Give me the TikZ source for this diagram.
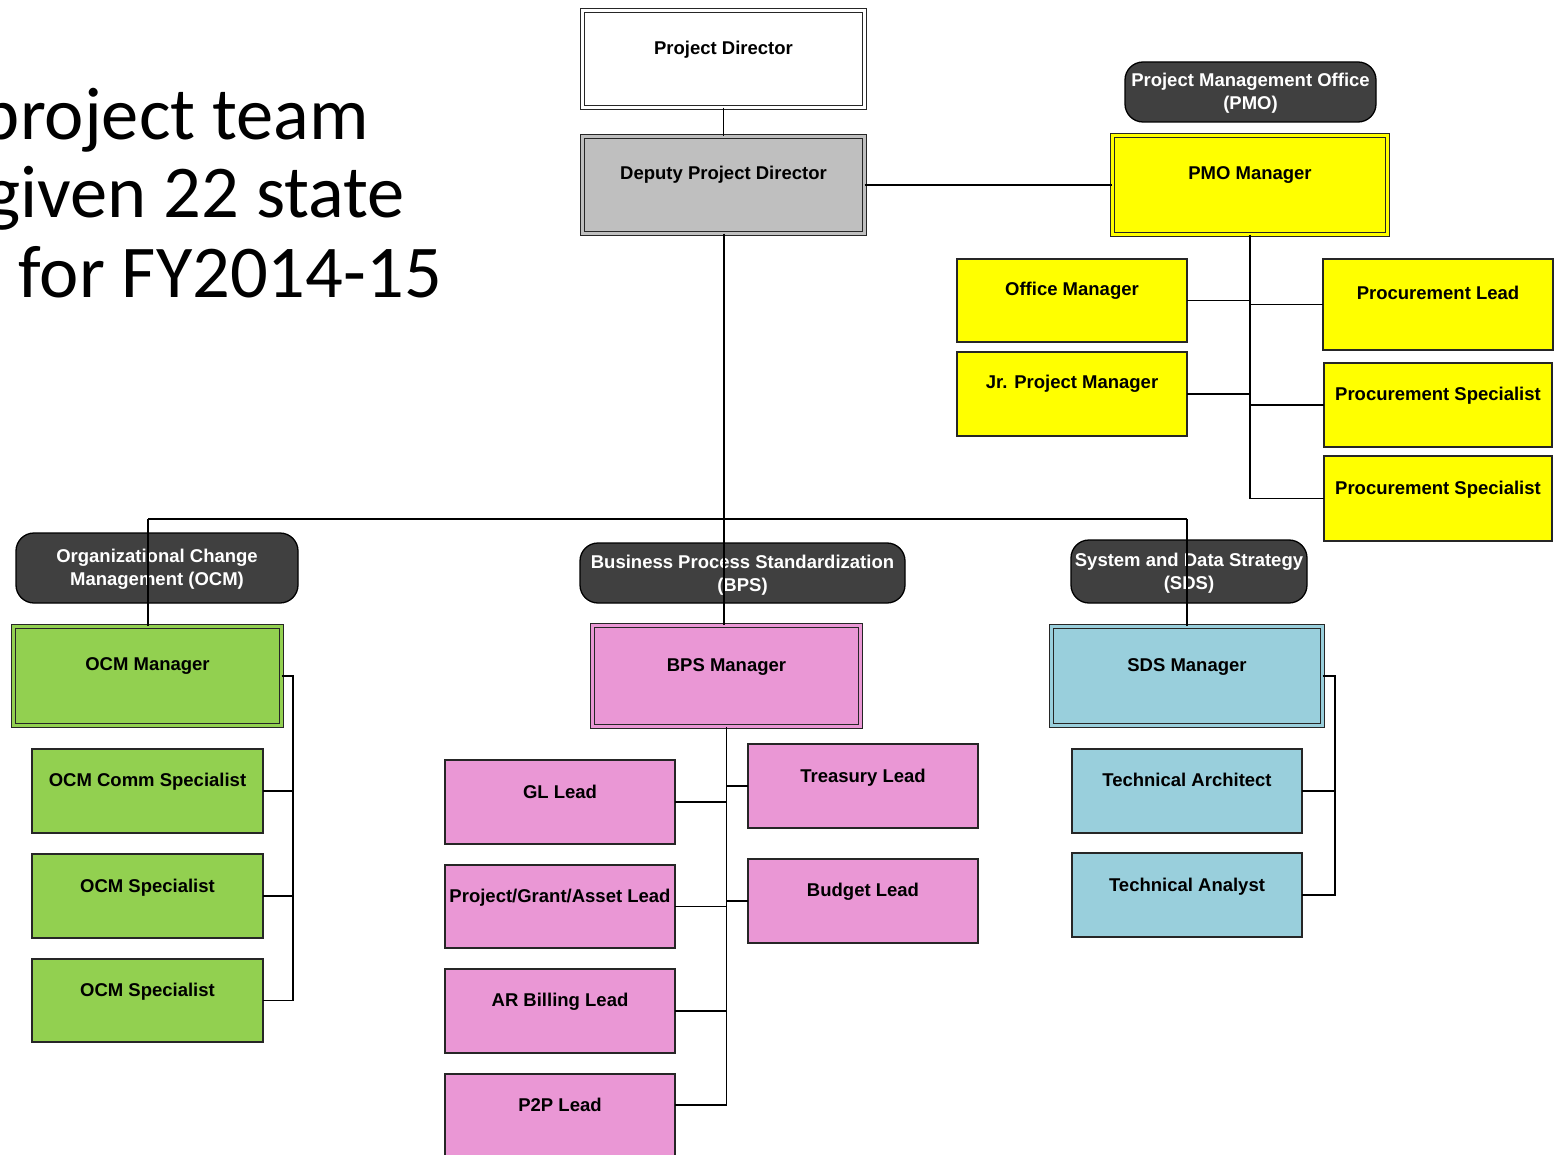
\documentclass[tikz,border=0pt]{standalone}
\usepackage{fontspec}
\setmainfont{Liberation Sans}
\newfontfamily\titlefont{Carlito}
\definecolor{ylw}{HTML}{FFFF00}
\definecolor{grn}{HTML}{92D050}
\definecolor{pnk}{HTML}{EA97D5}
\definecolor{blu}{HTML}{99CFDC}
\definecolor{gry}{HTML}{BFBFBF}
\definecolor{hdrgray}{HTML}{404040}
\newcommand\orgbox[8]{%
  \node[box, fill=#2, minimum width={#5-#3}, minimum height={#6-#4}] (#1) at ({(#3+#5)/2},{(#4+#6)/2}) {};
  \node[lbl] (#1-t) at ({(#3+#5)/2},#7) {#8};}
\newcommand\mgrbox[8]{%
  \node[mgr=#2, minimum width={#5-#3-4.8}, minimum height={#6-#4-4.8}] (#1) at ({(#3+#5)/2},{(#4+#6)/2}) {};
  \node[lbl] (#1-t) at ({(#3+#5)/2},#7) {#8};}
\newcommand\hdrbox[7]{%
  \node[hdr, minimum width={#4-#2}, minimum height={#5-#3}] (#1) at ({(#2+#4)/2},{(#3+#5)/2}) {};
  \node[hlbl] (#1-t) at ({(#2+#4)/2},#6) {#7};}
\begin{document}
\begin{tikzpicture}[x=1pt,y=-1pt,
  box/.style={rectangle, draw=black!85, line width=1.4pt, inner sep=0pt, outer sep=0pt},
  mgr/.style={rectangle, draw=black!85, fill=#1, double=#1, line width=1.2pt, double distance=2.4pt, inner sep=0pt, outer sep=0pt},
  hdr/.style={rectangle, draw=black, fill=hdrgray, line width=1.3pt, rounded corners=18pt, inner sep=0pt, outer sep=0pt},
  lbl/.style={inner sep=0pt, font=\bfseries\fontsize{18.5}{22}\selectfont, text height=13pt, text depth=0pt},
  hlbl/.style={inner sep=0pt, font=\bfseries\fontsize{18.5}{23}\selectfont, text=white, align=center},
  conn/.style={draw=black, line width=1.6pt},
  trunk/.style={draw=black, line width=2pt},
  ttl/.style={inner sep=0pt, anchor=base east, font=\titlefont\fontsize{74.5}{80}\selectfont}]
\useasboundingbox (0,0) rectangle (1554,1155);
\fill[white] (0,0) rectangle (1554,1155);

% title text (cut off at the left edge, as in the reference)
\node[ttl] (t1) at (369,140) {project team};
\node[ttl] (t2) at (405,218) {given 22 state};
\node[ttl] (t3) at (442,298) {for FY2014-15};

% top
\mgrbox{pd}{white}{580}{8}{867}{110}{48}{Project Director}
\mgrbox{dpd}{gry}{580}{134}{867}{236}{173}{Deputy Project Director}

% PMO
\hdrbox{pmoh}{1125}{62}{1376}{122}{92.8}{Project Management Office\\(PMO)}
\mgrbox{pmom}{ylw}{1110}{133}{1390}{237}{173}{PMO Manager}
\orgbox{om}{ylw}{957}{259}{1187}{342}{289}{Office Manager}
\orgbox{jpm}{ylw}{957}{352}{1187}{436}{382}{Jr. Project Manager}
\orgbox{pl}{ylw}{1323}{259}{1553}{350}{293}{Procurement Lead}
\orgbox{ps1}{ylw}{1324}{363}{1552}{447}{394}{Procurement Specialist}
\orgbox{ps2}{ylw}{1324}{456}{1552}{541}{488}{Procurement Specialist}

% OCM
\hdrbox{ocmh}{16}{533}{298}{603}{569.3}{Organizational Change\\Management (OCM)}
\mgrbox{ocmm}{grn}{11}{624}{284}{728}{664}{OCM Manager}
\orgbox{ocm1}{grn}{32}{749}{263}{833}{780}{OCM Comm Specialist}
\orgbox{ocm2}{grn}{32}{854}{263}{938}{885.5}{OCM Specialist}
\orgbox{ocm3}{grn}{32}{959}{263}{1042}{990}{OCM Specialist}

% BPS
\hdrbox{bpsh}{580}{543}{905}{603}{574.8}{Business Process Standardization\\(BPS)}
\mgrbox{bpsm}{pnk}{590}{623}{863}{729}{665}{BPS Manager}
\orgbox{gl}{pnk}{445}{760}{675}{844}{791.5}{GL Lead}
\orgbox{pga}{pnk}{445}{865}{675}{948}{896}{Project/Grant/Asset Lead}
\orgbox{ar}{pnk}{445}{969}{675}{1053}{1000}{AR Billing Lead}
\orgbox{p2p}{pnk}{445}{1074}{675}{1180}{1105}{P2P Lead}
\orgbox{tl}{pnk}{748}{744}{978}{828}{775.5}{Treasury Lead}
\orgbox{bl}{pnk}{748}{859}{978}{943}{890}{Budget Lead}

% SDS
\hdrbox{sdsh}{1071}{540}{1307}{603}{573.5}{System and Data Strategy\\(SDS)}
\mgrbox{sdsm}{blu}{1049}{624}{1325}{728}{665}{SDS Manager}
\orgbox{ta}{blu}{1072}{749}{1302}{833}{780}{Technical Architect}
\orgbox{tan}{blu}{1072}{853}{1302}{937}{884.5}{Technical Analyst}

% connectors
\coordinate (barL) at (148,519);
\coordinate (barR) at (1187,519);
\coordinate (ocmbus) at (293,676);
\coordinate (sdsbus) at (1335,676);
\coordinate (p2pc) at (675,1105);

\draw[conn] (pd.south) -- (dpd.north);
\draw[conn] (dpd.east) -- (pmom.west);
\draw[trunk] (dpd.south) -- (dpd.south |- bpsm.north);
\draw[conn] (barL) -- (barR);
\draw[conn] (barL) -- (barL |- ocmm.north);
\draw[conn] (barR) -- (barR |- sdsm.north);

\draw[conn] (pmom.south) |- (ps2.west);
\draw[conn] (om.east) -- (om.east -| pmom.south);
\draw[conn] (jpm.east) -- (jpm.east -| pmom.south);
\draw[conn] (pl.west) -- (pl.west -| pmom.south);
\draw[conn] (ps1.west) -- (ps1.west -| pmom.south);

\draw[conn] (ocmm.east) -- (ocmbus) |- (ocm3.east);
\draw[conn] (ocm1.east) -- (ocm1.east -| ocmbus);
\draw[conn] (ocm2.east) -- (ocm2.east -| ocmbus);

\draw[conn] (bpsm.south) |- (p2pc);
\draw[conn] (gl.east) -- (gl.east -| bpsm.south);
\draw[conn] (pga.east) -- (pga.east -| bpsm.south);
\draw[conn] (ar.east) -- (ar.east -| bpsm.south);
\draw[conn] (tl.west) -- (tl.west -| bpsm.south);
\draw[conn] (bl.west) -- (bl.west -| bpsm.south);

\draw[conn] (sdsm.east) -- (sdsbus) |- (tan.east);
\draw[conn] (ta.east) -- (ta.east -| sdsbus);
\end{tikzpicture}
\end{document}
